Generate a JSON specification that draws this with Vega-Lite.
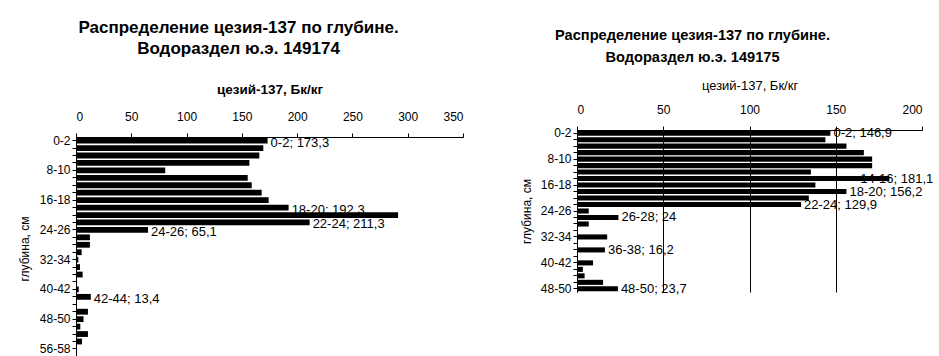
{
  "$schema": "https://vega.github.io/schema/vega-lite/v6.json",
  "background": "white",
  "padding": {"left": 18, "top": 19, "right": 0, "bottom": 0},
  "columns": 2,
  "align": "none",
  "spacing": 56,
  "config": {
    "font": "Liberation Sans",
    "view": {"stroke": null},
    "axis": {
      "domainColor": "black",
      "tickColor": "black",
      "labelColor": "black",
      "titleColor": "black",
      "labelFontSize": 12,
      "tickSize": 4,
      "labelFont": "Liberation Sans",
      "titleFont": "Liberation Sans"
    },
    "title": {"color": "black", "font": "Liberation Sans"}
  },
  "datasets": {
    "s149174": [
      {"depth": "0-2", "value": 173.3, "label": "0-2; 173,3"},
      {"depth": "2-4", "value": 169.4, "label": null},
      {"depth": "4-6", "value": 165.8, "label": null},
      {"depth": "6-8", "value": 156.8, "label": null},
      {"depth": "8-10", "value": 80.7, "label": null},
      {"depth": "10-12", "value": 155.3, "label": null},
      {"depth": "12-14", "value": 158.9, "label": null},
      {"depth": "14-16", "value": 167.9, "label": null},
      {"depth": "16-18", "value": 174.2, "label": null},
      {"depth": "18-20", "value": 192.3, "label": "18-20; 192,3"},
      {"depth": "20-22", "value": 291.3, "label": null},
      {"depth": "22-24", "value": 211.3, "label": "22-24; 211,3"},
      {"depth": "24-26", "value": 65.1, "label": "24-26; 65,1"},
      {"depth": "26-28", "value": 12.6, "label": null},
      {"depth": "28-30", "value": 12.6, "label": null},
      {"depth": "30-32", "value": 5.1, "label": null},
      {"depth": "32-34", "value": 2.1, "label": null},
      {"depth": "34-36", "value": 3.6, "label": null},
      {"depth": "36-38", "value": 6.0, "label": null},
      {"depth": "38-40", "value": 0, "label": null},
      {"depth": "40-42", "value": 2.5, "label": null},
      {"depth": "42-44", "value": 13.4, "label": "42-44; 13,4"},
      {"depth": "44-46", "value": 0, "label": null},
      {"depth": "46-48", "value": 10.8, "label": null},
      {"depth": "48-50", "value": 6.8, "label": null},
      {"depth": "50-52", "value": 3.9, "label": null},
      {"depth": "52-54", "value": 10.8, "label": null},
      {"depth": "54-56", "value": 5.4, "label": null},
      {"depth": "56-58", "value": 0, "label": null},
      {"depth": "58-60", "value": 0, "label": null}
    ],
    "s149175": [
      {"depth": "0-2", "value": 146.9, "label": "0-2; 146,9"},
      {"depth": "2-4", "value": 144.0, "label": null},
      {"depth": "4-6", "value": 156.2, "label": null},
      {"depth": "6-8", "value": 166.3, "label": null},
      {"depth": "8-10", "value": 171.1, "label": null},
      {"depth": "10-12", "value": 171.1, "label": null},
      {"depth": "12-14", "value": 135.6, "label": null},
      {"depth": "14-16", "value": 181.1, "label": "14-16; 181,1"},
      {"depth": "16-18", "value": 138.2, "label": null},
      {"depth": "18-20", "value": 156.2, "label": "18-20; 156,2"},
      {"depth": "20-22", "value": 134.4, "label": null},
      {"depth": "22-24", "value": 129.9, "label": "22-24; 129,9"},
      {"depth": "24-26", "value": 6.8, "label": null},
      {"depth": "26-28", "value": 24.0, "label": "26-28; 24"},
      {"depth": "28-30", "value": 6.8, "label": null},
      {"depth": "30-32", "value": 0, "label": null},
      {"depth": "32-34", "value": 17.5, "label": null},
      {"depth": "34-36", "value": 0, "label": null},
      {"depth": "36-38", "value": 16.2, "label": "36-38; 16,2"},
      {"depth": "38-40", "value": 0, "label": null},
      {"depth": "40-42", "value": 9.3, "label": null},
      {"depth": "42-44", "value": 3.4, "label": null},
      {"depth": "44-46", "value": 4.4, "label": null},
      {"depth": "46-48", "value": 15.1, "label": null},
      {"depth": "48-50", "value": 23.7, "label": "48-50; 23,7"}
    ]
  },
  "concat": [
    {
      "width": 387,
      "height": 230,
      "data": {"name": "s149174"},
      "title": {
        "text": ["Распределение цезия-137 по глубине.", "Водораздел ю.э. 149174"],
        "fontSize": 17,
        "fontWeight": "bold",
        "lineHeight": 21,
        "dx": -31,
        "offset": 24
      },
      "encoding": {
        "y": {
          "field": "depth",
          "type": "nominal",
          "sort": null,
          "scale": {"paddingInner": 0.22, "paddingOuter": 0.1, "rangeMin": 7},
          "axis": {
            "title": "глубина, см",
            "titleFontSize": 12,
            "titleFontWeight": "normal",
            "titlePadding": 8,
            "labelPadding": 2,
            "labelOverlap": false,
            "labelExpr": "indexof(['0-2','8-10','16-18','24-26','32-34','40-42','48-50','56-58'], datum.value) >= 0 ? datum.value : ''"
          }
        }
      },
      "layer": [
        {
          "mark": {"type": "bar", "color": "black"},
          "encoding": {
            "x": {
              "field": "value",
              "type": "quantitative",
              "scale": {"domain": [0, 350], "nice": false},
              "axis": {
                "orient": "top",
                "offset": -7,
                "values": [0, 50, 100, 150, 200, 250, 300, 350],
                "grid": false,
                "title": "цезий-137, Бк/кг",
                "titleFontSize": 13.5,
                "titleFontWeight": "bold",
                "titlePadding": 14,
                "labelPadding": 10
              }
            }
          }
        },
        {
          "transform": [{"filter": "datum.label != null"}],
          "mark": {"type": "text", "align": "left", "baseline": "middle", "dx": 3, "dy": 2, "fontSize": 13, "color": "black"},
          "encoding": {
            "x": {"field": "value", "type": "quantitative"},
            "text": {"field": "label"}
          }
        }
      ]
    },
    {
      "width": 345,
      "height": 162,
      "data": {"name": "s149175"},
      "title": {
        "text": ["Распределение цезия-137 по глубине.", "Водораздел ю.э. 149175"],
        "fontSize": 14.6,
        "fontWeight": "bold",
        "lineHeight": 21.5,
        "dx": -57,
        "offset": 15
      },
      "encoding": {
        "y": {
          "field": "depth",
          "type": "nominal",
          "sort": null,
          "scale": {"paddingInner": 0.22, "paddingOuter": 0.1},
          "axis": {
            "title": "глубина, см",
            "titleFontSize": 12,
            "titleFontWeight": "normal",
            "titlePadding": 7,
            "labelPadding": 2,
            "labelOverlap": false,
            "labelExpr": "indexof(['0-2','8-10','16-18','24-26','32-34','40-42','48-50'], datum.value) >= 0 ? datum.value : ''"
          }
        }
      },
      "layer": [
        {
          "mark": {"type": "bar", "color": "black"},
          "encoding": {
            "x": {
              "field": "value",
              "type": "quantitative",
              "scale": {"domain": [0, 200], "nice": false},
              "axis": {
                "orient": "top",
                "values": [0, 50, 100, 150, 200],
                "grid": true,
                "gridColor": "black",
                "gridOpacity": {"condition": {"test": "datum.value === 200", "value": 0}, "value": 1},
                "title": "цезий-137, Бк/кг",
                "titleFontSize": 13,
                "titleFontWeight": "normal",
                "titlePadding": 10.8,
                "labelPadding": 10
              }
            }
          }
        },
        {
          "transform": [
            {"filter": "datum.label != null"},
            {"calculate": "min(datum.value, 162.5)", "as": "labelAt"}
          ],
          "mark": {"type": "text", "align": "left", "baseline": "middle", "dx": 3, "fontSize": 13, "color": "black"},
          "encoding": {
            "x": {"field": "labelAt", "type": "quantitative"},
            "text": {"field": "label"}
          }
        }
      ]
    }
  ]
}
